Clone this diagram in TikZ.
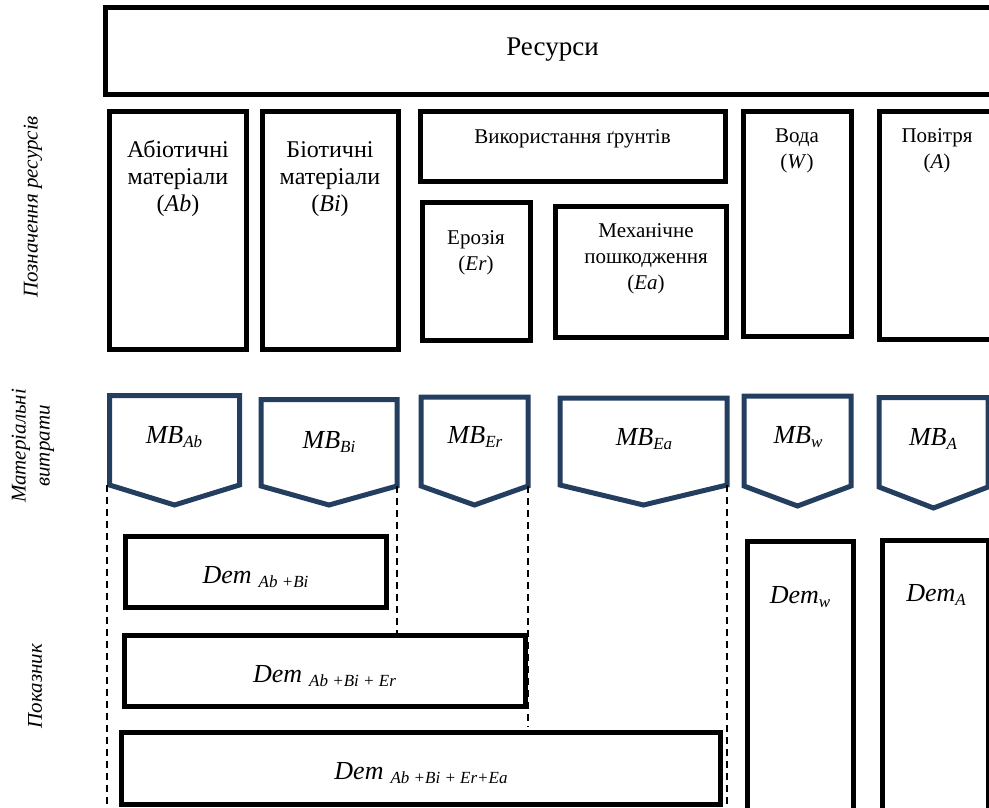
\documentclass[tikz,border=0pt]{standalone}
\usepackage{fontspec}
\setmainfont{Liberation Serif}
\usetikzlibrary{calc}
\definecolor{mbblue}{RGB}{36,62,96}
\tikzset{
 blk/.style={draw=black, line width=5pt, inner sep=0pt, outer sep=0pt},
 mbline/.style={draw=mbblue, line width=5pt, line join=miter},
 dline/.style={draw=black, line width=2.2pt, dash pattern=on 7pt off 5pt},
 lbl/.style={inner sep=0pt, anchor=base, align=center},
 sidelbl/.style={inner sep=0pt, rotate=90, align=center, font=\fontsize{21}{24}\selectfont\itshape},
 fa/.style={font=\fontsize{24}{27}\selectfont},
 fb/.style={font=\fontsize{21}{26}\selectfont},
 fm/.style={font=\fontsize{26}{26}\selectfont\itshape},
}
\newcommand\rectnode[5]{\node[blk, minimum width={(#4-#2)*1pt}, minimum height={(#5-#3)*1pt}] (#1) at ({(#2+#4)/2},{(#3+#5)/2}) {};}
\newcommand\mbpent[6]{\draw[mbline] (#2,#4) -- (#3,#4) -- (#3,#5) -- ({(#2+#3)/2},#6) -- (#2,#5) -- cycle;
 \coordinate (#1-l) at (#2,#5); \coordinate (#1-r) at (#3,#5);}
\newcommand\sbs[1]{\raisebox{-4pt}{\fontsize{17}{17}\selectfont #1}}
\begin{document}
\begin{tikzpicture}[x=1pt,y=-1pt]
\useasboundingbox (0,0) rectangle (989,807);
\clip (0,0) rectangle (989,807);
% top box
\rectnode{res}{105.5}{7.5}{1010}{94.5}
\node[lbl, font=\fontsize{27}{27}\selectfont] (tres) at (552.5,55) {Ресурси};
% resource boxes
\rectnode{ab}{109.5}{111.5}{246}{349.5}
\rectnode{bi}{262}{111.5}{398}{349}
\rectnode{soil}{420}{111.5}{725}{181}
\rectnode{er}{422}{202}{530}{340}
\rectnode{ea}{555}{206}{726}{337}
\rectnode{w}{743}{111.5}{851}{336}
\rectnode{air}{879}{111.5}{1010}{339}
\node[lbl, fa] (tab) at (178,211) {Абіотичні\\матеріали\\(\textit{Ab})};
\node[lbl, fa] (tbi) at (330,211) {Біотичні\\матеріали\\(\textit{Bi})};
\node[lbl, fb] (tsoil) at (572.5,143) {Використання ґрунтів};
\node[lbl, fb] (ter) at (476,270) {Ерозія\\(\textit{Er})};
\node[lbl, fb] (tea) at (646,289) {Механічне\\пошкодження\\(\textit{Ea})};
\node[lbl, fb] (tw) at (797,168) {Вода\\(\textit{W})};
\node[lbl, fb] (tair) at (937,168) {Повітря\\(\textit{A})};
% MB pentagons
\mbpent{mAb}{109.5}{239.5}{395.5}{485}{505}
\mbpent{mBi}{261}{397}{399.5}{486}{505}
\mbpent{mEr}{421}{528}{397}{486}{505}
\mbpent{mEa}{560}{727}{398}{485}{505}
\mbpent{mW}{744}{851}{396}{486}{506}
\mbpent{mA}{879}{988}{397.5}{487}{508}
\node[lbl, fm] (tmAb) at (174,443) {MB\sbs{Ab}};
\node[lbl, fm] (tmBi) at (329,448) {MB\sbs{Bi}};
\node[lbl, fm] (tmEr) at (475,443) {MB\sbs{Er}};
\node[lbl, fm] (tmEa) at (644,445) {MB\sbs{Ea}};
\node[lbl, fm] (tmW) at (798,443) {MB\sbs{w}};
\node[lbl, fm] (tmA) at (933,445) {MB\sbs{A}};
% Dem boxes
\rectnode{dAB}{125.5}{536}{386}{607.5}
\rectnode{dABE}{124}{635.5}{525}{706}
\rectnode{dABEE}{121.5}{732.5}{720.5}{804.5}
\rectnode{dW}{747}{541.5}{853}{820}
\rectnode{dA}{882.5}{540.5}{988}{820}
\node[lbl, fm] (tdAB) at (255.5,583) {Dem\hspace{7pt}\sbs{Ab +Bi}};
\node[lbl, fm] (tdABE) at (324.5,682) {Dem\hspace{7pt}\sbs{Ab +Bi + Er}};
\node[lbl, fm] (tdABEE) at (421,779) {Dem\hspace{7pt}\sbs{Ab +Bi + Er+Ea}};
\node[lbl, fm] (tdW) at (800,603) {Dem\sbs{w}};
\node[lbl, fm] (tdA) at (936,601) {Dem\sbs{A}};
% dashed connectors
\coordinate (b1) at (107,810);
\coordinate (b4) at (727,810);
\draw[dline] (mAb-l) ++(-2.5,0) coordinate (a1) -- (a1 |- b1);
\draw[dline] (mBi-r) -- (mBi-r |- dABE.north);
\draw[dline] (mEr-r) -- ($(mEr-r |- dABEE.north)+(0,-6)$);
\draw[dline] (mEa-r) -- (mEa-r |- b4);
% side labels
\node[sidelbl] (s1) at (33,207) {Позначення ресурсів};
\node[sidelbl] (s2) at (33,446) {Матеріальні\\витрати};
\node[sidelbl] (s3) at (35,686) {Показник};
\end{tikzpicture}
\end{document}
